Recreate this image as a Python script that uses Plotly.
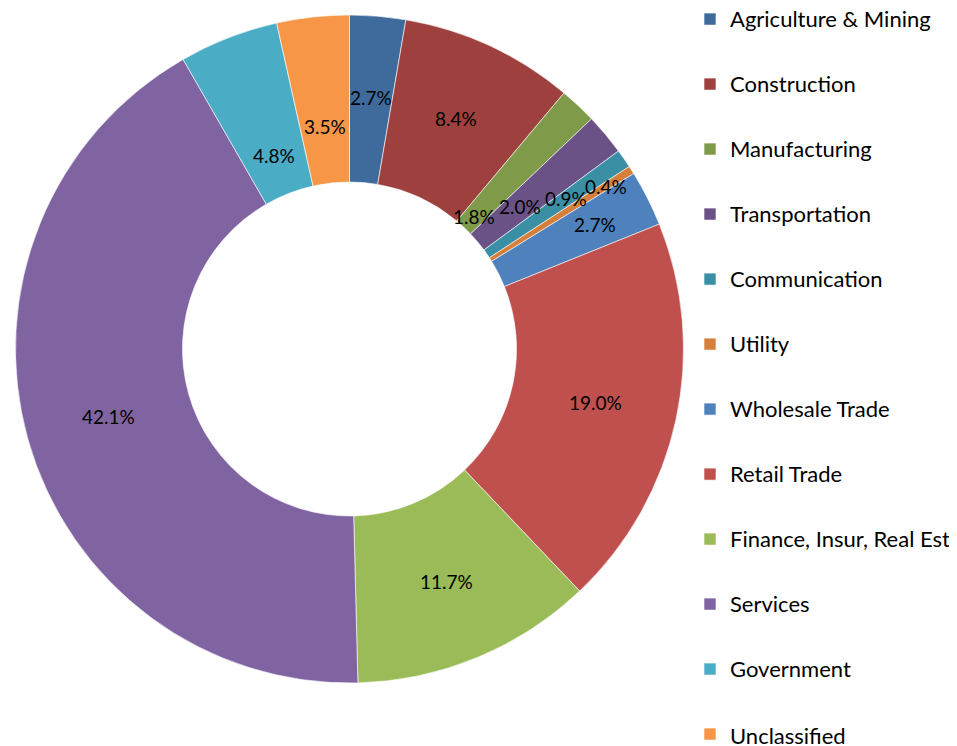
import math
import plotly.graph_objects as go

# ---- data ----
categories = ["Agriculture & Mining", "Construction", "Manufacturing", "Transportation",
              "Communication", "Utility", "Wholesale Trade", "Retail Trade",
              "Finance, Insur, Real Est", "Services", "Government", "Unclassified"]
shares = [2.7, 8.4, 1.8, 2.0, 0.9, 0.4, 2.7, 19.0, 11.7, 42.1, 4.8, 3.5]

# ---- style ----
colors = ["#3F6A9C", "#9E413E", "#7F9A48", "#6A5286", "#3A8FA5", "#D67F3A",
          "#4F81BD", "#C0504D", "#9BBB59", "#8064A2", "#4BACC6", "#F79646"]
# radial position of each percent label, as a fraction of the outer radius
label_radius = [0.755, 0.76, 0.545, 0.665, 0.79, 0.91, 0.823, 0.755, 0.755, 0.75, 0.62, 0.67]

W, H = 957, 746
FONT = "Lato"
# pie domain in figure pixels (left, right, top, bottom)
px0, px1, py0, py1 = 7.5, 675.5, 7.0, 675.0
dom_x = [px0 / W, px1 / W]
dom_y = [1 - py1 / H, 1 - py0 / H]
cx, cy = (px0 + px1) / 2, (py0 + py1) / 2
R = min(px1 - px0, py1 - py0) / 2

# legend entries: a blank first line plus trailing blank lines give the wide,
# evenly spaced entries (legend line height is small; label text is larger)
N_LINES = 10
legend_names = []
for i, name in enumerate(categories):
    txt = "&nbsp;<br>" + f"<span style='font-size:22px'>{name}</span>"
    if i < len(categories) - 1:
        txt += "<br>&nbsp;" * (N_LINES - 2)
    legend_names.append(txt)

ITEM_H = 65.0
legend_font = (ITEM_H - 3) / N_LINES / 1.3

fig = go.Figure(go.Pie(
    labels=legend_names,
    values=shares,
    sort=False,
    direction="clockwise",
    rotation=0,
    hole=0.5,
    textinfo="none",
    marker=dict(colors=colors, line=dict(color="white", width=0.6)),
    domain=dict(x=dom_x, y=dom_y),
    hovertext=categories,
    hoverinfo="text+percent",
))

# percent labels placed at each slice's mid angle
total = sum(shares)
annotations = []
cum = 0.0
for v, rf in zip(shares, label_radius):
    mid = (cum + v / 2) / total * 2 * math.pi
    cum += v
    x = cx + R * rf * math.sin(mid)
    y = cy - R * rf * math.cos(mid)
    annotations.append(dict(
        x=x / W, y=1 - y / H, xref="paper", yref="paper",
        text=f"{v / total * 100:.1f}%", showarrow=False,
        xanchor="center", yanchor="middle",
        font=dict(family=FONT, size=19, color="black"),
    ))

fig.update_layout(
    width=W, height=H,
    margin=dict(l=0, r=0, t=0, b=0),
    paper_bgcolor="white",
    plot_bgcolor="white",
    showlegend=True,
    legend=dict(
        x=682 / W, xanchor="left",
        y=1 - 1.5 / H, yanchor="top",
        font=dict(family=FONT, size=legend_font, color="black"),
        valign="top",
        itemwidth=30,
        bgcolor="rgba(0,0,0,0)",
    ),
    annotations=annotations,
)

fig.write_html("out.html")
